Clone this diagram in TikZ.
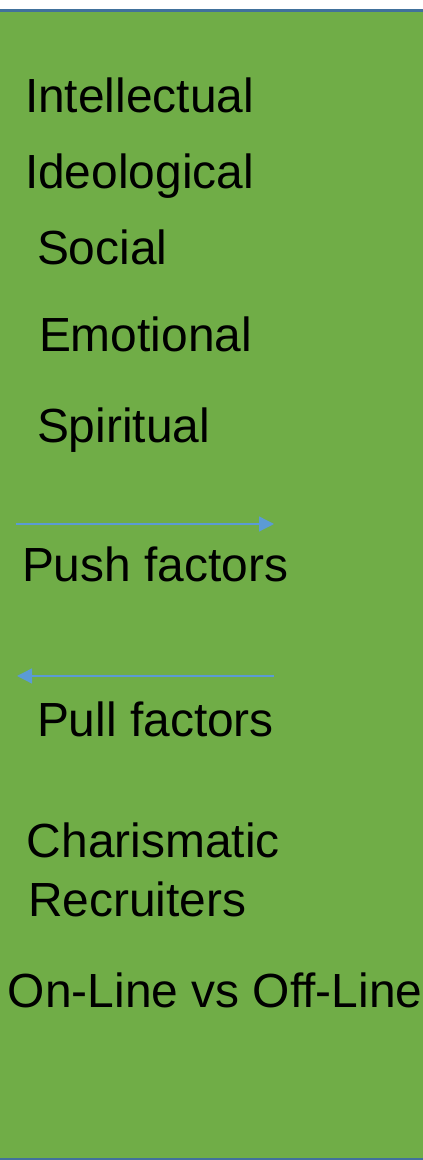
\documentclass[tikz,border=0pt]{standalone}
\usepackage{fontspec}
\setmainfont{Liberation Sans}
\usetikzlibrary{arrows.meta}
\definecolor{panelgreen}{HTML}{70AD47}
\definecolor{panelborder}{HTML}{41719C}
\definecolor{arrowblue}{HTML}{5B9BD5}
\begin{document}
\begin{tikzpicture}[x=1pt,y=1pt,
  lbl/.style={anchor=base west,inner sep=0pt,outer sep=0pt,text=black,font=\fontsize{47.9}{57}\selectfont},
  flowarrow/.style={draw=arrowblue,line width=1.3pt,-{Triangle[length=15pt,width=15pt]}}]
\useasboundingbox (0,0) rectangle (423,1160);
\begin{scope}
\clip (0,0) rectangle (423,1160);
\draw[fill=panelgreen,draw=panelborder,line width=2.6pt] (-5,1149.5) rectangle (428,1.0);
\end{scope}
\node[lbl] (intel) at (25,1160-113) {Intellectual};
\node[lbl] (ideo) at (25,1160-189) {Ideological};
\node[lbl] (social) at (37,1160-265) {Social};
\node[lbl] (emot) at (39,1160-352) {Emotional};
\node[lbl] (spirit) at (37,1160-443) {Spiritual};
\coordinate (p1) at (16,1160-524);
\coordinate (p2) at (274,1160-524);
\draw[flowarrow] (p1) -- (p2);
\node[lbl] (push) at (22,1160-582) {Push factors};
\coordinate (q1) at (274,1160-676);
\coordinate (q2) at (17,1160-676);
\draw[flowarrow] (q1) -- (q2);
\node[lbl] (pull) at (37,1160-737) {Pull factors};
\node[lbl] (char) at (27,1160-858) {Charismatic};
\node[lbl] (recr) at (28,1160-917) {Recruiters};
\node[lbl] (online) at (8,1160-1008) {On-Line vs Off-Line};
\end{tikzpicture}
\end{document}
